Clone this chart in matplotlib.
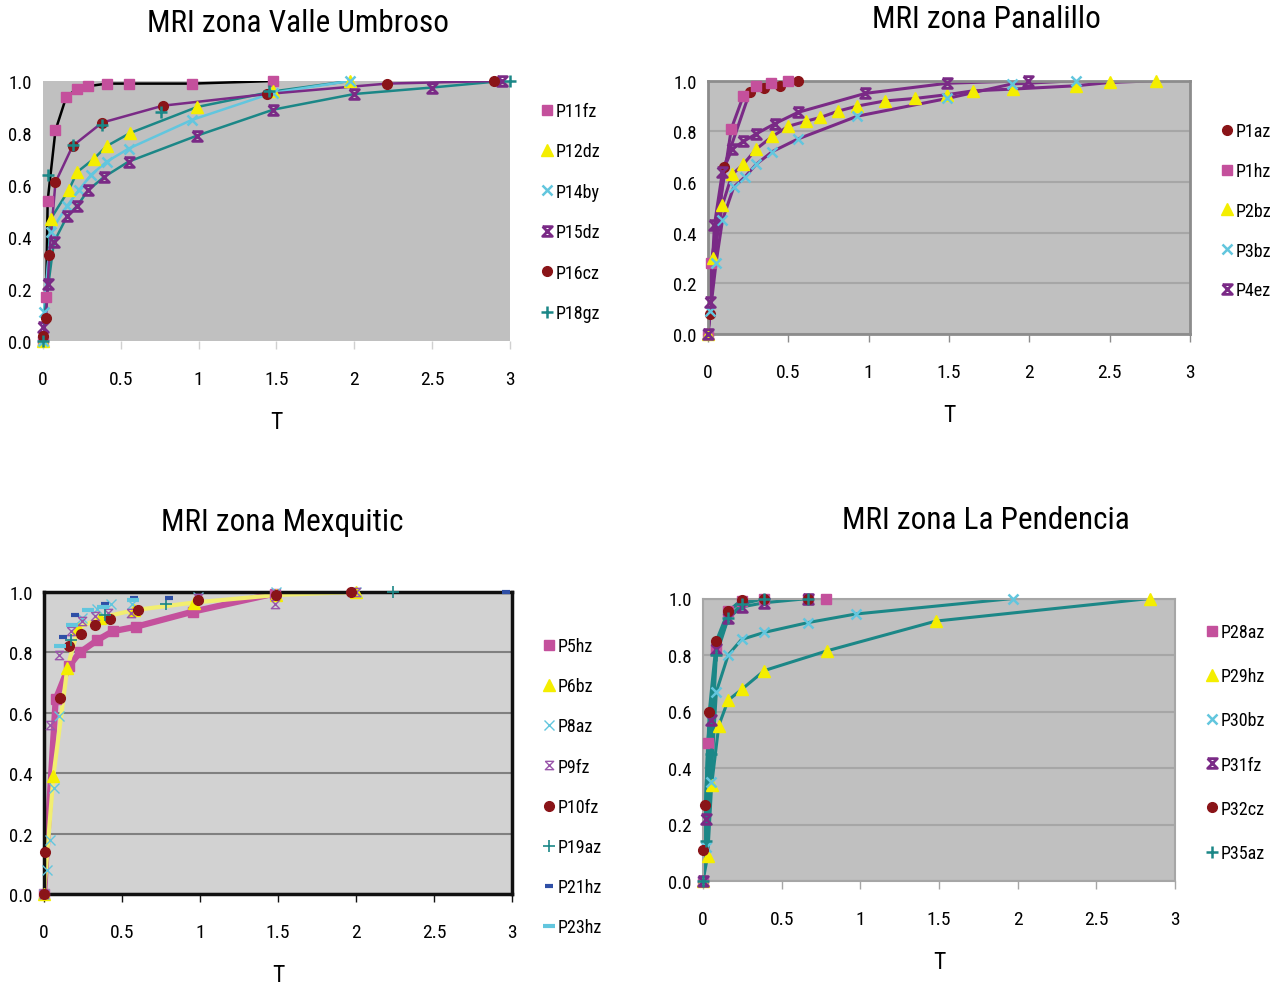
import numpy as np
import matplotlib.pyplot as plt
from matplotlib.path import Path
from matplotlib.lines import Line2D
from matplotlib import font_manager

# pick a narrow / condensed sans face if one is installed
cands = []
for f in font_manager.fontManager.ttflist:
    narrowish = (str(f.stretch) in ('condensed', 'semi-condensed', '75', '87')
                 or 'Narrow' in f.name or 'Condensed' in f.name)
    if narrowish and f.style == 'normal' and f.weight in (400, 'normal', 'regular'):
        cands.append(f)
cands.sort(key=lambda f: (0 if 'Liberation' in f.name or 'Arial' in f.name else
                          1 if 'Roboto' in f.name or 'Open' in f.name else 2))
if cands:
    plt.rcParams['font.family'] = [cands[0].name, 'DejaVu Sans']
    plt.rcParams['font.stretch'] = cands[0].stretch
    k = 1.0
else:
    plt.rcParams['font.family'] = ['Liberation Sans', 'DejaVu Sans']
    k = 0.86

# ---------------- MRI zona Valle Umbroso ----------------
p11fz_t = [0, 0.02, 0.03, 0.08, 0.15, 0.22, 0.29, 0.41, 0.55, 0.96, 1.48]
p11fz_y = [0, 0.17, 0.54, 0.81, 0.94, 0.97, 0.98, 0.99, 0.99, 0.99, 1.0]
p12dz_t = [0, 0.05, 0.165, 0.22, 0.325, 0.41, 0.56, 0.99, 1.48, 1.97]
p12dz_y = [0, 0.47, 0.58, 0.65, 0.70, 0.75, 0.80, 0.90, 0.96, 1.0]
p14by_t = [0, 0.005, 0.05, 0.155, 0.23, 0.31, 0.41, 0.55, 0.955, 1.48, 1.97]
p14by_y = [0, 0.11, 0.42, 0.52, 0.58, 0.64, 0.69, 0.74, 0.85, 0.955, 1.0]
p15dz_t = [0, 0.035, 0.07, 0.155, 0.22, 0.29, 0.39, 0.55, 0.99, 1.48, 2.0, 2.5, 2.95]
p15dz_y = [0.055, 0.22, 0.38, 0.48, 0.52, 0.58, 0.63, 0.69, 0.79, 0.89, 0.95, 0.975, 1.0]
p16cz_t = [0, 0.02, 0.04, 0.08, 0.19, 0.38, 0.77, 1.44, 2.21, 2.90]
p16cz_y = [0.02, 0.09, 0.33, 0.61, 0.75, 0.84, 0.905, 0.95, 0.99, 1.0]
p18gz_t = [0, 0.03, 0.19, 0.38, 0.76, 1.45, 3.0]
p18gz_y = [0, 0.64, 0.755, 0.83, 0.88, 0.96, 1.0]

# ---------------- MRI zona Panalillo ----------------
p1az_t = [0, 0.01, 0.10, 0.26, 0.35, 0.45, 0.56]
p1az_y = [0, 0.08, 0.66, 0.955, 0.97, 0.98, 1.0]
p1hz_t = [0, 0.02, 0.145, 0.22, 0.30, 0.39, 0.50]
p1hz_y = [0, 0.28, 0.81, 0.94, 0.98, 0.99, 1.0]
p2bz_t = [0, 0.03, 0.09, 0.15, 0.22, 0.30, 0.40, 0.50, 0.61, 0.70, 0.81, 0.93,
          1.10, 1.29, 1.49, 1.65, 1.90, 2.29, 2.50, 2.79]
p2bz_y = [0, 0.30, 0.51, 0.63, 0.67, 0.73, 0.78, 0.82, 0.84, 0.855, 0.88, 0.90,
          0.92, 0.93, 0.945, 0.96, 0.967, 0.98, 0.993, 1.0]
p3bz_t = [0, 0.015, 0.05, 0.09, 0.16, 0.23, 0.30, 0.40, 0.56, 0.93, 1.49, 1.89, 2.29]
p3bz_y = [0, 0.09, 0.28, 0.45, 0.58, 0.62, 0.67, 0.72, 0.77, 0.86, 0.93, 0.987, 1.0]
p4ez_t = [0, 0.015, 0.04, 0.09, 0.15, 0.22, 0.30, 0.415, 0.56, 0.98, 1.49, 1.99]
p4ez_y = [0, 0.125, 0.43, 0.64, 0.73, 0.76, 0.79, 0.83, 0.875, 0.95, 0.99, 1.0]

# ---------------- MRI zona Mexquitic ----------------
p5hz_t = [0, 0.075, 0.16, 0.23, 0.34, 0.44, 0.59, 0.955, 1.48]
p5hz_y = [0, 0.645, 0.755, 0.80, 0.84, 0.87, 0.885, 0.935, 0.995]
p6bz_t = [0, 0.06, 0.15, 0.22, 0.36, 0.58, 0.96, 1.49, 2.0]
p6bz_y = [0, 0.39, 0.75, 0.88, 0.915, 0.94, 0.965, 0.99, 1.0]
p8az_t = [0, 0.017, 0.04, 0.065, 0.095, 0.245, 0.34, 0.43, 0.565, 0.99, 1.49, 2.0]
p8az_y = [0, 0.08, 0.18, 0.35, 0.59, 0.915, 0.945, 0.96, 0.96, 0.985, 1.0, 1.0]
p9fz_t = [0, 0.04, 0.095, 0.17, 0.245, 0.33, 0.41, 0.56, 0.99, 1.48, 2.0]
p9fz_y = [0, 0.56, 0.79, 0.87, 0.905, 0.92, 0.93, 0.93, 0.98, 0.96, 1.0]
p10fz_t = [0, 0.005, 0.10, 0.16, 0.235, 0.33, 0.42, 0.60, 0.99, 1.49, 1.97]
p10fz_y = [0, 0.14, 0.65, 0.82, 0.86, 0.89, 0.91, 0.94, 0.975, 0.99, 1.0]
p19az_t = [0.17, 0.39, 0.78, 2.24]
p19az_y = [0.84, 0.925, 0.96, 1.0]
p21hz_t = [0.12, 0.20, 0.39, 0.58, 0.80, 2.96]
p21hz_y = [0.85, 0.925, 0.96, 0.98, 0.98, 1.0]
p23hz_t = [0.10, 0.18, 0.28, 0.38, 0.57]
p23hz_y = [0.82, 0.89, 0.94, 0.95, 0.975]

# ---------------- MRI zona La Pendencia ----------------
p28az_t = [0, 0.03, 0.085, 0.16, 0.245, 0.39, 0.67, 0.78]
p28az_y = [0, 0.49, 0.82, 0.955, 0.99, 1.0, 1.0, 1.0]
p29hz_t = [0, 0.03, 0.055, 0.10, 0.16, 0.25, 0.39, 0.79, 1.48, 2.84]
p29hz_y = [0, 0.09, 0.34, 0.55, 0.64, 0.68, 0.745, 0.815, 0.92, 1.0]
p30bz_t = [0, 0.017, 0.05, 0.085, 0.16, 0.245, 0.39, 0.67, 0.97, 1.97]
p30bz_y = [0, 0.12, 0.35, 0.67, 0.80, 0.855, 0.88, 0.915, 0.945, 1.0]
p31fz_t = [0, 0.02, 0.05, 0.085, 0.16, 0.245, 0.39, 0.67]
p31fz_y = [0, 0.22, 0.57, 0.82, 0.93, 0.97, 0.985, 1.0]
p32cz_t = [0.0, 0.015, 0.04, 0.085, 0.16, 0.245, 0.39, 0.67]
p32cz_y = [0.11, 0.27, 0.60, 0.85, 0.955, 0.995, 1.0, 1.0]
p35az_t = [0, 0.02, 0.05, 0.085, 0.16, 0.245, 0.39, 0.67]
p35az_y = [0, 0.14, 0.45, 0.80, 0.93, 0.98, 1.0, 1.0]

PINK = '#c4509c'
YELLOW = '#f4ee00'
PALEYELLOW = '#f2ee70'
CYAN = '#62c6de'
PURPLE = '#7a2a86'
LPURPLE = '#9a56aa'
DRED = '#8a1418'
TEAL = '#1b8787'
DBLUE = '#2f4fa6'

star = Path([(-1, 1), (1, 1), (-1, -1), (1, -1), (-1, 1)],
            [Path.MOVETO, Path.LINETO, Path.LINETO, Path.LINETO, Path.LINETO])

# marker styles: marker, colour, size, edge width, filled
MK = {
    'sq': ('s', PINK, 6.5, 1, True),
    'tri': ('^', YELLOW, 8, 1, True),
    'x': ('x', CYAN, 7, 1.8, False),
    'star': (star, PURPLE, 7, 2.0, False),
    'dot': ('o', DRED, 7, 1, True),
    'plus': ('+', TEAL, 9, 1.8, False),
    'x_thin': ('x', CYAN, 7, 1.0, False),
    'star_thin': (star, LPURPLE, 6, 1.0, False),
    'plus_thin': ('+', TEAL, 9, 1.2, False),
    'dash_b': ('_', DBLUE, 6, 3, False),
    'dash_c': ('_', CYAN, 9, 3, False),
}

fig = plt.figure(figsize=(12.76, 9.87), dpi=100)


def mk_kw(key):
    m, c, s, w, filled = MK[key]
    return dict(marker=m, markersize=s, markeredgewidth=w, markeredgecolor=c,
                markerfacecolor=c if filled else 'none')


def panel(rect, title, title_xy, series, bg, grid, spine_c, spine_w,
          leg_xy, leg_space):
    ax = fig.add_axes(rect)
    ax.set_facecolor(bg)
    handles = []
    for lab, t, y, key, lc, lw in series:
        if lc is not None:
            ax.plot(t, y, color=lc, lw=lw, zorder=2, solid_joinstyle='round')
        ax.plot(t, y, linestyle='none', zorder=3, clip_on=False, **mk_kw(key))
        handles.append(Line2D([], [], linestyle='none', **mk_kw(key)))
    ax.set_xlim(0, 3)
    ax.set_ylim(0, 1.0)
    ax.set_xticks([0, 0.5, 1, 1.5, 2, 2.5, 3])
    ax.set_xticklabels(['0', '0.5', '1', '1.5', '2', '2.5', '3'])
    ax.set_yticks([0, 0.2, 0.4, 0.6, 0.8, 1.0])
    ax.set_yticklabels(['0.0', '0.2', '0.4', '0.6', '0.8', '1.0'])
    ax.tick_params(axis='y', length=0, pad=8, labelsize=13.5 * k)
    ax.tick_params(axis='x', length=6, width=1,
                   color=spine_c if spine_w > 0 else '#d0d0d0',
                   pad=15, labelsize=14 * k)
    if grid is not None:
        ax.grid(axis='y', color=grid, lw=1.5)
        ax.set_axisbelow(True)
    for s in ax.spines.values():
        if spine_w > 0:
            s.set_color(spine_c)
            s.set_linewidth(spine_w)
        else:
            s.set_visible(False)
    ax.set_xlabel('T', fontsize=17 * k, labelpad=16)
    fig.text(title_xy[0] / 1276, 1 - title_xy[1] / 987, title, ha='center',
             va='center', fontsize=22.5 * k)
    ax.legend(handles, [s[0] for s in series], loc='upper left',
              bbox_to_anchor=(leg_xy[0] / 1276, 1 - leg_xy[1] / 987),
              bbox_transform=fig.transFigure, frameon=False, fontsize=13 * k,
              handlelength=0.5, handletextpad=0.25, labelspacing=leg_space / k,
              borderpad=0, borderaxespad=0)
    return ax


panel([43 / 1276, 1 - 342 / 987, 467 / 1276, 260 / 987],
      'MRI zona Valle Umbroso', (298, 24),
      [('P11fz', p11fz_t, p11fz_y, 'sq', 'black', 1.8),
       ('P12dz', p12dz_t, p12dz_y, 'tri', TEAL, 1.8),
       ('P14by', p14by_t, p14by_y, 'x', CYAN, 1.8),
       ('P15dz', p15dz_t, p15dz_y, 'star', TEAL, 1.8),
       ('P16cz', p16cz_t, p16cz_y, 'dot', PURPLE, 1.8),
       ('P18gz', p18gz_t, p18gz_y, 'plus', None, 0)],
      '#c0c0c0', None, '#c0c0c0', 0, (542, 103), 1.24)

panel([708 / 1276, 1 - 335 / 987, 482 / 1276, 253.3 / 987],
      'MRI zona Panalillo', (986, 20),
      [('P1az', p1az_t, p1az_y, 'dot', PURPLE, 2.2),
       ('P1hz', p1hz_t, p1hz_y, 'sq', PURPLE, 2.2),
       ('P2bz', p2bz_t, p2bz_y, 'tri', PURPLE, 2.2),
       ('P3bz', p3bz_t, p3bz_y, 'x', PURPLE, 2.2),
       ('P4ez', p4ez_t, p4ez_y, 'star', PURPLE, 2.2)],
      '#c0c0c0', '#a6a6a6', '#8c8c8c', 2.0, (1222, 123), 1.21)

panel([44 / 1276, 1 - 895 / 987, 468 / 1276, 302 / 987],
      'MRI zona Mexquitic', (282, 523),
      [('P5hz', p5hz_t, p5hz_y, 'sq', PINK, 4.5),
       ('P6bz', p6bz_t, p6bz_y, 'tri', PALEYELLOW, 3.0),
       ('P8az', p8az_t, p8az_y, 'x_thin', None, 0),
       ('P9fz', p9fz_t, p9fz_y, 'star_thin', None, 0),
       ('P10fz', p10fz_t, p10fz_y, 'dot', None, 0),
       ('P19az', p19az_t, p19az_y, 'plus_thin', None, 0),
       ('P21hz', p21hz_t, p21hz_y, 'dash_b', None, 0),
       ('P23hz', p23hz_t, p23hz_y, 'dash_c', None, 0)],
      '#d2d2d2', '#808080', '#111111', 2.5, (544, 638), 1.23)

panel([703 / 1276, 1 - 882 / 987, 472 / 1276, 282.5 / 987],
      'MRI zona La Pendencia', (986, 521),
      [('P28az', p28az_t, p28az_y, 'sq', TEAL, 2.2),
       ('P29hz', p29hz_t, p29hz_y, 'tri', TEAL, 2.2),
       ('P30bz', p30bz_t, p30bz_y, 'x', TEAL, 2.2),
       ('P31fz', p31fz_t, p31fz_y, 'star', TEAL, 2.2),
       ('P32cz', p32cz_t, p32cz_y, 'dot', TEAL, 2.2),
       ('P35az', p35az_t, p35az_y, 'plus', TEAL, 2.2)],
      '#c0c0c0', '#a6a6a6', '#a6a6a6', 1.5, (1207, 624), 1.45)

fig.savefig('out.png', dpi=100)
